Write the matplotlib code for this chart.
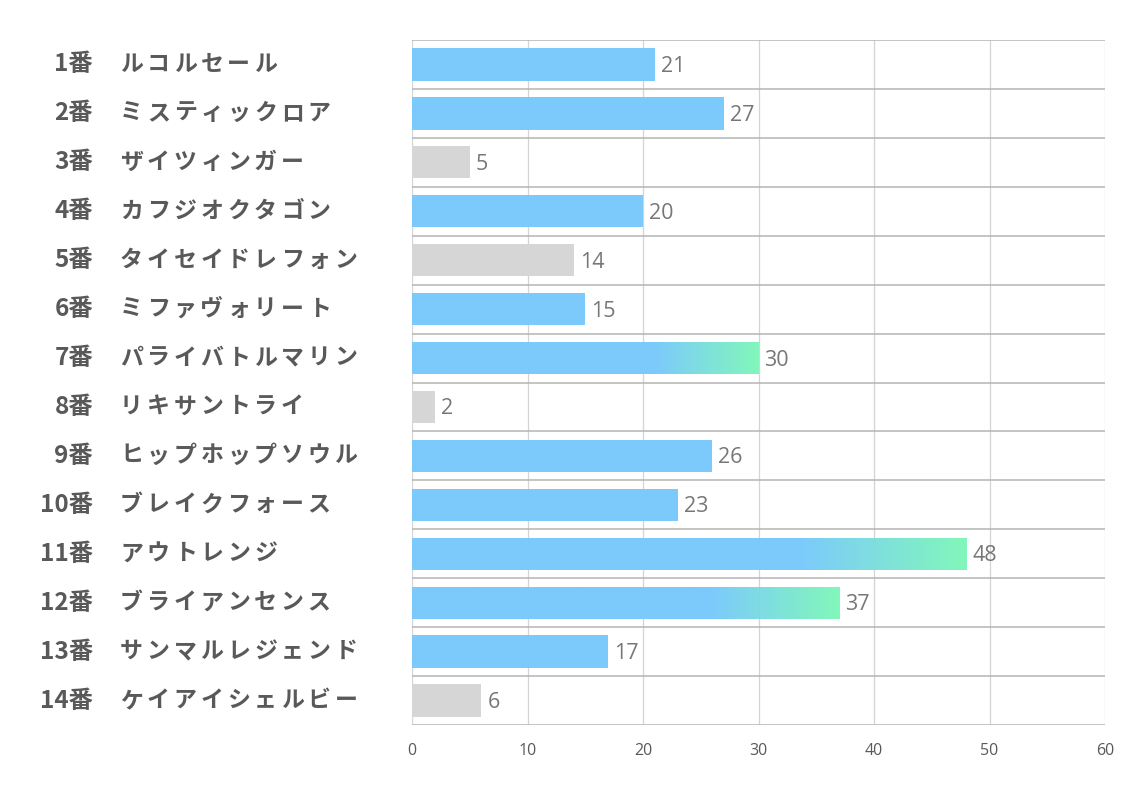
import numpy as np
import matplotlib.pyplot as plt
from matplotlib.colors import LinearSegmentedColormap

plt.rcParams['font.family'] = ['Noto Sans CJK JP', 'DejaVu Sans']

# data
numbers = ["1番", "2番", "3番", "4番", "5番", "6番", "7番", "8番", "9番", "10番",
           "11番", "12番", "13番", "14番"]
names = ["ルコルセール", "ミスティックロア", "ザイツィンガー", "カフジオクタゴン",
         "タイセイドレフォン", "ミファヴォリート", "パライバトルマリン", "リキサントライ",
         "ヒップホップソウル", "ブレイクフォース", "アウトレンジ", "ブライアンセンス",
         "サンマルレジェンド", "ケイアイシェルビー"]
values = [21, 27, 5, 20, 14, 15, 30, 2, 26, 23, 48, 37, 17, 6]
gray_horses = ["3番", "5番", "8番", "14番"]
x_ticks = [0, 10, 20, 30, 40, 50, 60]

blue = "#78c9fc"
green = "#7ef7b9"
gray = "#d6d6d6"
label_col = "#595959"
grad = LinearSegmentedColormap.from_list("g", [blue, green], N=256)

W, H = 1134, 793
fig = plt.figure(figsize=(W / 100, H / 100), dpi=100)
ax_l, ax_r, ax_t, ax_b = 412, 1105, 40, 725
ax = fig.add_axes([ax_l / W, 1 - ax_b / H, (ax_r - ax_l) / W, (ax_b - ax_t) / H])

n = len(values)
ypos = np.arange(n)
px = 72 / 100  # points per pixel

for y, v, num in zip(ypos, values, numbers):
    if num in gray_horses:
        ax.barh(y, v, height=0.66, color=gray, zorder=2)
    elif v >= 30:
        bar = ax.barh(y, v, height=0.66, color="none", zorder=2)[0]
        # flat blue for the first ~70% of the bar, then fades into green
        t = np.linspace(0, 1, 256)
        g = np.clip((t - 0.7) / 0.3, 0, 1)
        im = ax.imshow(g.reshape(1, -1), cmap=grad, vmin=0, vmax=1, aspect="auto",
                       extent=[0, v, y + 0.33, y - 0.33], alpha=0.97, zorder=2)
        im.set_clip_path(bar)
    else:
        ax.barh(y, v, height=0.66, color=blue, alpha=0.97, zorder=2)
    ax.annotate(str(v), xy=(v, y), xytext=(6 * px, -2 * px), textcoords="offset points",
                va="center", ha="left", fontsize=15.5, color="#777777",
                family=["Open Sans", "DejaVu Sans"])

ax.set_xlim(0, 60)
ax.set_ylim(n - 0.5, -0.5)

# grid
for x in x_ticks:
    ax.axvline(x, color="#d4d4d4", lw=0.9, zorder=1)
for b in np.arange(-0.5, n, 1):
    ax.axhline(b, color="#b4b4b4", lw=1.1, zorder=1)

for s in ax.spines.values():
    s.set_visible(False)
ax.set_xticks(x_ticks)
ax.tick_params(axis="x", length=0, pad=13, labelsize=11.5, labelcolor=label_col)
for lab in ax.get_xticklabels():
    lab.set_family(["Open Sans", "DejaVu Sans"])
ax.set_yticks([])

# category labels: number right-aligned, name spaced out character by character
step = 26.8
for y, num, name in zip(ypos, numbers, names):
    ax.annotate(num, xy=(0, y), xytext=((93 - ax_l) * px, 0), textcoords="offset points",
                ha="right", va="center", fontsize=17.5, fontweight="bold", color=label_col,
                annotation_clip=False)
    for i, ch in enumerate(name):
        ax.annotate(ch, xy=(0, y), xytext=((120 + step * i - ax_l) * px, 0),
                    textcoords="offset points", ha="left", va="center", fontsize=16.5,
                    fontweight="bold", color=label_col, annotation_clip=False)

fig.savefig("out.png", dpi=100)
